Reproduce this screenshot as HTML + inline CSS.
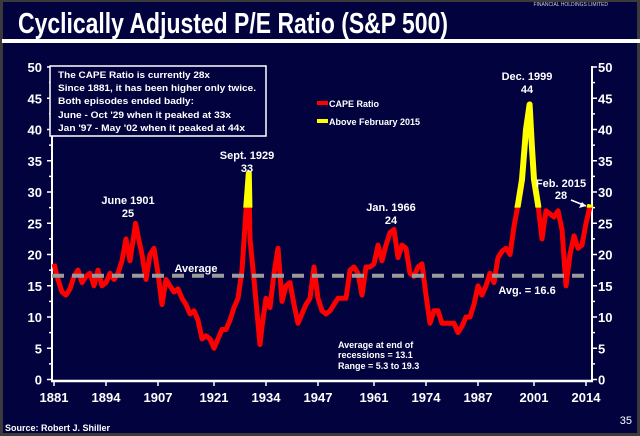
<!DOCTYPE html>
<html><head><meta charset="utf-8"><style>
html,body{margin:0;padding:0;background:#3a3a3a;}
#slide{position:relative;width:640px;height:436px;overflow:hidden;background:#3a3a3a;font-family:"Liberation Sans",sans-serif;}
svg text{font-family:"Liberation Sans",sans-serif;}
</style></head><body>
<div id="slide">
<svg id="chart" width="640" height="436">
  <rect x="3" y="2" width="634" height="431" fill="#02023f"/>
  <text x="608" y="6" font-size="5" fill="#cccccc" text-anchor="end">FINANCIAL HOLDINGS LIMITED</text>
  <text x="18" y="33" font-size="29" font-weight="bold" fill="#ffffff" textLength="430" lengthAdjust="spacingAndGlyphs">Cyclically Adjusted P/E Ratio (S&amp;P 500)</text>
  <rect x="2" y="39" width="638" height="4" fill="#ffffff"/>
  <g id="axes"></g>
  <g id="series"></g>
  <rect x="50" y="66" width="216" height="70" fill="#02023f" stroke="#ffffff" stroke-width="1.5"/>
  <g font-size="9.5" font-weight="bold" fill="#ffffff">
    <text x="58" y="78" textLength="152" lengthAdjust="spacingAndGlyphs">The CAPE Ratio is currently 28x</text>
    <text x="58" y="91" textLength="198" lengthAdjust="spacingAndGlyphs">Since 1881, it has been higher only twice.</text>
    <text x="58" y="104" textLength="136" lengthAdjust="spacingAndGlyphs">Both episodes ended badly:</text>
    <text x="58" y="118" textLength="173" lengthAdjust="spacingAndGlyphs">June - Oct '29 when it peaked at 33x</text>
    <text x="58" y="131" textLength="187" lengthAdjust="spacingAndGlyphs">Jan '97 - May '02 when it peaked at 44x</text>
  </g>
  <line x1="317" y1="103" x2="328" y2="103" stroke="#ff0000" stroke-width="4"/>
  <text x="329" y="107" font-size="9" font-weight="bold" fill="#ffffff">CAPE Ratio</text>
  <line x1="317" y1="121" x2="328" y2="121" stroke="#ffff00" stroke-width="4"/>
  <text x="329" y="125" font-size="9" font-weight="bold" fill="#ffffff">Above February 2015</text>
  <g font-size="11" font-weight="bold" fill="#ffffff" text-anchor="middle">
    <text x="128" y="204">June 1901</text><text x="128" y="217">25</text>
    <text x="247" y="159">Sept. 1929</text><text x="247" y="172">33</text>
    <text x="391" y="211">Jan. 1966</text><text x="391" y="224">24</text>
    <text x="527" y="80">Dec. 1999</text><text x="527" y="93">44</text>
    <text x="561" y="187">Feb. 2015</text><text x="561" y="199">28</text>
    <text x="196" y="272">Average</text>
    <text x="527" y="294">Avg. = 16.6</text>
  </g>
  <path d="M571,200 L586,206" stroke="#ffffff" stroke-width="1.5" fill="none"/>
  <path d="M586,206 L579,208 L582,202 Z" fill="#ffffff"/>
  <g font-size="9" font-weight="bold" fill="#ffffff">
    <text x="338" y="348">Average at end of</text>
    <text x="338" y="358">recessions = 13.1</text>
    <text x="338" y="369">Range = 5.3 to 19.3</text>
  </g>
  <text x="5" y="431" font-size="9" font-weight="bold" fill="#ffffff">Source: Robert J. Shiller</text>
  <text x="632" y="424" font-size="11" fill="#ffffff" text-anchor="end">35</text>
</svg>
</div>
<script>
const years=[1881,1882,1883,1884,1885,1886,1887,1888,1889,1890,1891,1892,1893,1894,1895,1896,1897,1898,1899,1900,1901.4,1902,1903,1904,1905,1906,1907,1908,1909,1910,1911,1912,1913,1914,1915,1916,1917,1918,1919,1920,1921,1922,1923,1924,1925,1926,1927,1928,1929,1929.7,1930,1931,1932.5,1933,1934,1935,1936,1937,1938,1939,1940,1941,1942,1943,1944,1945,1946,1947,1948,1949,1950,1951,1952,1953,1954,1955,1956,1957,1958,1959,1960,1961,1962,1963,1964,1965,1966,1967,1968,1969,1970,1971,1972,1973,1974,1975,1976,1977,1978,1979,1980,1981,1982,1983,1984,1985,1986,1987,1988,1989,1990,1991,1992,1993,1994,1995,1996,1997,1998,1999,1999.9,2000.5,2001,2002,2003,2004,2005,2006,2007,2008,2009,2010,2011,2012,2013,2014,2015.1];
const cape=[18.5,16,14,13.5,14.5,16.5,17.5,15.5,16.5,17,15,17.5,15,15.5,17,16,17,19,22.5,19,25,23,20,16,20,21,17,12,16,15,14,14.5,13,12,10.5,11,9.5,6.5,7,6.5,5,6.5,8,8,9.5,11.5,13,17.5,27,33,22.5,16,5.6,8.5,13,11.5,17,21,12.5,15,15.5,12,9,10.5,12,13,18,13,11,10.5,11,12,13,13,13,17.5,18,17,13.5,18,18,18.5,21.5,19,21.5,23.5,24,19.5,21.5,21,17,16.5,18,18.5,13.5,9,11,11,9,9,9,9,7.5,8.5,10,10,12,15,13.5,15,17,15.5,19.5,20.5,21,20,24.5,28,32,40,44,37,32,28,22.5,27,26.5,26,27,24,15,20,23,21,21.5,25,28];
const yTicks=[0,5,10,15,20,25,30,35,40,45,50];
const xTickLabels=[1881,1894,1907,1921,1934,1947,1961,1974,1987,2001,2014];
const average=[16.6];
const threshold=[27.5];

const NS='http://www.w3.org/2000/svg';
const X0=54,X1=586,Y0=379.5,Y1=67;
function xs(y){return X0+(y-1881)*(X1-X0)/(2014-1881);}
function ys(v){return Y0+(v-0)*(Y1-Y0)/50;}
function mk(tag,attrs,parent){const e=document.createElementNS(NS,tag);for(const k in attrs)e.setAttribute(k,attrs[k]);parent.appendChild(e);return e;}
const ax=document.getElementById('axes');
const sr=document.getElementById('series');

let e=mk('line',{x1:52,y1:66,x2:52,y2:382,stroke:'#fff','stroke-width':2},ax);


e=mk('line',{x1:592,y1:66,x2:592,y2:382,stroke:'#fff','stroke-width':2},ax);


e=mk('line',{x1:51,y1:381,x2:593,y2:381,stroke:'#fff','stroke-width':2.5},ax);



for(let v=0;v<=50;v+=2.5){
  const y=ys(v),len=(v%5===0)?5:3;
  e=mk('line',{x1:52-len,y1:y,x2:52,y2:y,stroke:'#fff','stroke-width':1.5},ax);
  
  
  e=mk('line',{x1:592,y1:y,x2:592+len,y2:y,stroke:'#fff','stroke-width':1.5},ax);
  
  
}
yTicks.forEach(v=>{
  let t=mk('text',{x:42,y:ys(v)+5,'font-size':13,'font-weight':'bold',fill:'#fff','text-anchor':'end'},ax);
  t.textContent=v;
  
  
  t=mk('text',{x:598,y:ys(v)+5,'font-size':13,'font-weight':'bold',fill:'#fff'},ax);
  t.textContent=v;
  
  
});
xTickLabels.forEach(yr=>{
  const x=xs(yr);
  let l=mk('line',{x1:x,y1:381,x2:x,y2:386,stroke:'#fff','stroke-width':1.5},ax);
  
  
  let t=mk('text',{x:x,y:402,'font-size':13,'font-weight':'bold',fill:'#fff','text-anchor':'middle'},ax);
  t.textContent=yr;
  
  
});

const pts=years.map((y,i)=>xs(y).toFixed(1)+','+ys(cape[i]).toFixed(1)).join(' ');
e=mk('polyline',{points:pts,fill:'none',stroke:'#ff0000','stroke-width':5,'stroke-linejoin':'round'},sr);


const cp=mk('clipPath',{id:'aboveClip'},sr);
mk('rect',{x:0,y:0,width:640,height:ys(threshold[0])},cp);
e=mk('polyline',{points:pts,fill:'none',stroke:'#ffff00','stroke-width':6,'stroke-linejoin':'round','clip-path':'url(#aboveClip)'},sr);


e=mk('line',{x1:52,y1:ys(average[0]),x2:592,y2:ys(average[0]),stroke:'#9a9a9a','stroke-width':4,'stroke-dasharray':'12,8'},sr);


</script>
</body></html>
